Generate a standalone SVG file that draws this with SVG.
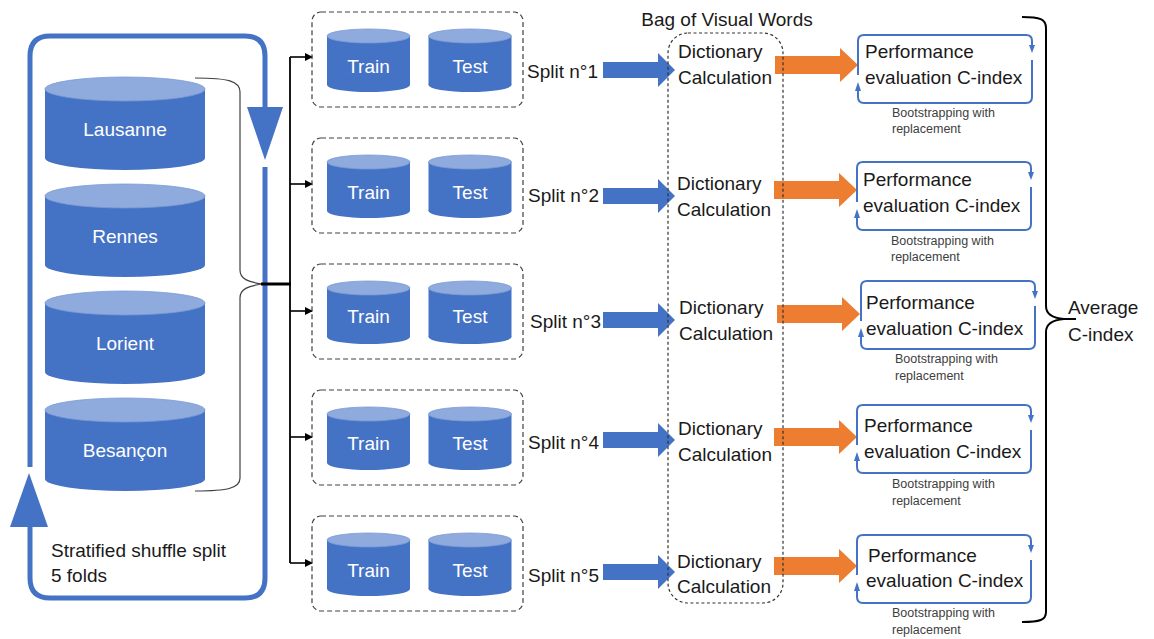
<svg xmlns="http://www.w3.org/2000/svg" width="1154" height="639" viewBox="0 0 1154 639">
<defs>
<style>
text{font-family:"Liberation Sans",Arial,sans-serif;fill:#1a1a1a;font-size:19px}
.w{fill:#ffffff}
.sm{font-size:12.5px;fill:#404040}
.cb{fill:#4472C4}
.ct{fill:#8FAADC;stroke:#7A9BD6;stroke-width:0.8}
.dash{fill:none;stroke:#404040;stroke-width:1.2;stroke-dasharray:5,3}
.blue{fill:none;stroke:#4472C4;stroke-width:5}
.pb{fill:none;stroke:#4472C4;stroke-width:2}
.bf{fill:#4472C4}
.of{fill:#ED7D31}
.k{fill:none;stroke:#000;stroke-width:1.6}
</style>
<marker id="ah" markerWidth="8" markerHeight="8" refX="7" refY="4" orient="auto" markerUnits="userSpaceOnUse"><path d="M0,0 L8,4 L0,8 Z" fill="#000"/></marker>
<g id="cylS">
<rect x="-41.5" y="24" width="83" height="49" class="cb"/>
<ellipse cx="0" cy="73" rx="41.5" ry="7" class="cb"/>
<ellipse cx="0" cy="24" rx="41.5" ry="7" class="ct"/>
</g>
<g id="cylB">
<rect x="-80" y="12" width="160" height="69" class="cb"/>
<ellipse cx="0" cy="81" rx="80" ry="12" class="cb"/>
<ellipse cx="0" cy="12" rx="80" ry="12" class="ct"/>
</g>
<g id="perfShape">
<path class="pb" d="M0,40 L0,6 Q0,0 6,0 L168,0 Q174,0 174,6 L174,11"/>
<polygon class="bf" points="171,10 177,10 174,18"/>
<path class="pb" d="M174,25 L174,62 Q174,68 168,68 L6,68 Q0,68 0,62 L0,56"/>
<polygon class="bf" points="-3,56 3,56 0,47"/>
</g>
<path id="barrow" d="M0,-8 L55,-8 L55,-17 L72,0 L55,17 L55,8 L0,8 Z"/>
<path id="oarrow" d="M0,-9 L65,-9 L65,-17 L83,0 L65,17 L65,9 L0,9 Z"/>
</defs>
<rect width="1154" height="639" fill="#ffffff"/>

<!-- big loop -->
<g id="loop">
<path class="blue" d="M30,467 L30,56 Q30,36 50,36 L245,36 Q265,36 265,56 L265,108"/>
<polygon class="bf" points="247,107 283,107 265,160"/>
<path class="blue" d="M265,167 L265,578 Q265,598 245,598 L50,598 Q30,598 30,578 L30,526"/>
<polygon class="bf" points="10,527 48,527 29,473"/>
<text x="51" y="557">Stratified shuffle split</text>
<text x="51" y="582">5 folds</text>
</g>

<g id="lausanne"><use href="#cylB" x="125" y="77"/><text class="w" x="125" y="136" text-anchor="middle">Lausanne</text></g>
<g id="rennes"><use href="#cylB" x="125" y="184"/><text class="w" x="125" y="243" text-anchor="middle">Rennes</text></g>
<g id="lorient"><use href="#cylB" x="125" y="291"/><text class="w" x="125" y="350" text-anchor="middle">Lorient</text></g>
<g id="besancon"><use href="#cylB" x="125" y="398"/><text class="w" x="125" y="457" text-anchor="middle">Besançon</text></g>

<!-- connectors -->
<g id="connectors">
<path fill="none" stroke="#404040" stroke-width="1.2" d="M195,78 C228,78 240,81 240,92 L240,270 C240,279 248,282 262,284 C248,286 240,289 240,298 L240,478 C240,488 228,491 195,491"/>
<line x1="261" y1="284" x2="291" y2="284" stroke="#000" stroke-width="3"/>
<line x1="290" y1="57" x2="290" y2="563" stroke="#000" stroke-width="1.8"/>
<line class="k" x1="290" y1="57" x2="312" y2="57" marker-end="url(#ah)"/>
<line class="k" x1="290" y1="184" x2="312" y2="184" marker-end="url(#ah)"/>
<line class="k" x1="290" y1="311" x2="312" y2="311" marker-end="url(#ah)"/>
<line class="k" x1="290" y1="437" x2="312" y2="437" marker-end="url(#ah)"/>
<line class="k" x1="290" y1="563" x2="312" y2="563" marker-end="url(#ah)"/>
<use href="#barrow" class="bf" x="603" y="70"/>
<use href="#barrow" class="bf" x="603" y="196"/>
<use href="#barrow" class="bf" x="603" y="320"/>
<use href="#barrow" class="bf" x="603" y="440"/>
<use href="#barrow" class="bf" x="603" y="572"/>
<use href="#oarrow" class="of" x="775" y="65"/>
<use href="#oarrow" class="of" x="774" y="190"/>
<use href="#oarrow" class="of" x="777" y="314"/>
<use href="#oarrow" class="of" x="774" y="437"/>
<use href="#oarrow" class="of" x="774" y="566"/>
<path fill="none" stroke="#000" stroke-width="2" d="M1022,17 C1040,17 1046,19 1046,28 L1046,306 C1046,314 1052,318 1064,319 L1076,319 M1064,319 C1052,320 1046,324 1046,332 L1046,612 C1046,620 1040,622 1022,622"/>
</g>

<!-- split boxes -->
<g id="split1" transform="translate(0,12)">
<rect class="dash" x="312" y="0" width="211" height="95" rx="9"/>
<use href="#cylS" x="368.5" y="0"/><text class="w" x="368.5" y="61" text-anchor="middle">Train</text>
<use href="#cylS" x="470" y="0"/><text class="w" x="470" y="61" text-anchor="middle">Test</text>
</g>
<g id="split2" transform="translate(0,138)">
<rect class="dash" x="312" y="0" width="211" height="95" rx="9"/>
<use href="#cylS" x="368.5" y="0"/><text class="w" x="368.5" y="61" text-anchor="middle">Train</text>
<use href="#cylS" x="470" y="0"/><text class="w" x="470" y="61" text-anchor="middle">Test</text>
</g>
<g id="split3" transform="translate(0,264)">
<rect class="dash" x="312" y="0" width="211" height="95" rx="9"/>
<use href="#cylS" x="368.5" y="0"/><text class="w" x="368.5" y="59" text-anchor="middle">Train</text>
<use href="#cylS" x="470" y="0"/><text class="w" x="470" y="59" text-anchor="middle">Test</text>
</g>
<g id="split4" transform="translate(0,390)">
<rect class="dash" x="312" y="0" width="211" height="95" rx="9"/>
<use href="#cylS" x="368.5" y="0"/><text class="w" x="368.5" y="60" text-anchor="middle">Train</text>
<use href="#cylS" x="470" y="0"/><text class="w" x="470" y="60" text-anchor="middle">Test</text>
</g>
<g id="split5" transform="translate(0,516)">
<rect class="dash" x="312" y="0" width="211" height="95" rx="9"/>
<use href="#cylS" x="368.5" y="0"/><text class="w" x="368.5" y="61" text-anchor="middle">Train</text>
<use href="#cylS" x="470" y="0"/><text class="w" x="470" y="61" text-anchor="middle">Test</text>
</g>

<g id="split-labels">
<text x="527" y="78">Split n°1</text>
<text x="528" y="202">Split n°2</text>
<text x="530" y="328">Split n°3</text>
<text x="528" y="449">Split n°4</text>
<text x="528" y="582">Split n°5</text>
</g>

<!-- bag of visual words -->
<g id="bovw">
<rect x="668" y="33" width="115" height="570" rx="20" fill="none" stroke="#333" stroke-width="1.2" stroke-dasharray="3,2.5"/>
<text x="727" y="26" text-anchor="middle">Bag of Visual Words</text>
<text x="678" y="58">Dictionary</text><text x="678" y="84">Calculation</text>
<text x="677" y="190">Dictionary</text><text x="677" y="216">Calculation</text>
<text x="679" y="314">Dictionary</text><text x="679" y="340">Calculation</text>
<text x="678" y="435">Dictionary</text><text x="678" y="461">Calculation</text>
<text x="677" y="568">Dictionary</text><text x="677" y="593">Calculation</text>
</g>

<!-- performance boxes -->
<g id="perf1" transform="translate(858,35)">
<use href="#perfShape"/>
<text x="7" y="23">Performance</text><text x="7" y="49">evaluation C-index</text>
<text class="sm" x="34" y="82">Bootstrapping with</text><text class="sm" x="34" y="98">replacement</text>
</g>
<g id="perf2" transform="translate(857,162)">
<use href="#perfShape"/>
<text x="6" y="24">Performance</text><text x="6" y="50">evaluation C-index</text>
<text class="sm" x="34" y="83">Bootstrapping with</text><text class="sm" x="34" y="99">replacement</text>
</g>
<g id="perf3" transform="translate(861,281)">
<use href="#perfShape"/>
<text x="5" y="28">Performance</text><text x="5" y="54">evaluation C-index</text>
<text class="sm" x="34" y="82">Bootstrapping with</text><text class="sm" x="34" y="99">replacement</text>
</g>
<g id="perf4" transform="translate(857,405)">
<use href="#perfShape"/>
<text x="7" y="27">Performance</text><text x="7" y="53">evaluation C-index</text>
<text class="sm" x="35" y="83">Bootstrapping with</text><text class="sm" x="35" y="100">replacement</text>
</g>
<g id="perf5" transform="translate(857,535)">
<use href="#perfShape"/>
<text x="11" y="27">Performance</text><text x="9" y="52">evaluation C-index</text>
<text class="sm" x="35" y="82">Bootstrapping with</text><text class="sm" x="35" y="99">replacement</text>
</g>

<g id="average">
<text x="1068" y="314">Average</text>
<text x="1068" y="341">C-index</text>
</g>
</svg>
